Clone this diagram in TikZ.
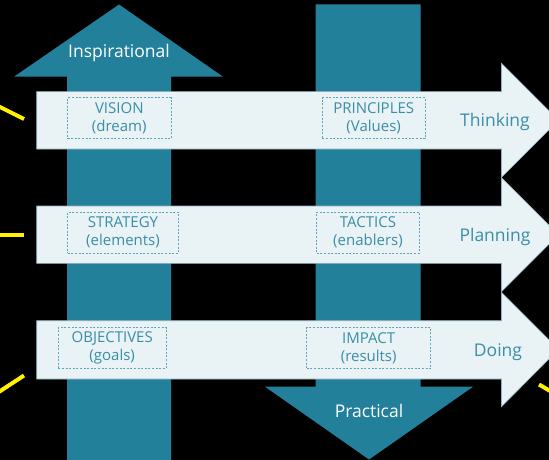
\documentclass[tikz,border=0pt]{standalone}
\usepackage{fontspec}
\setmainfont{Open Sans}
\definecolor{arrowteal}{HTML}{22809A}
\definecolor{bandfill}{HTML}{E9F2F5}
\definecolor{bandline}{HTML}{8FB2BE}
\definecolor{labelteal}{HTML}{3A8EA6}
\definecolor{boxline}{HTML}{5FA6B9}
\begin{document}
\begin{tikzpicture}[x=1pt,y=-1pt]
\tikzstyle{every node}+=[inner sep=0pt]
\tikzstyle{band}=[fill=bandfill, draw=bandline, line width=0.6pt]
\tikzstyle{shaft}=[fill=arrowteal]
\tikzstyle{tag}=[draw=boxline, dash pattern=on 2pt off 1.6pt, line width=0.7pt, text=labelteal, align=center, minimum height=41pt, font=\fontsize{15}{18}\selectfont]
\tikzstyle{lane}=[text=labelteal, font=\fontsize{17.5}{18}\selectfont]
\tikzstyle{heading}=[text=white, font=\fontsize{17.5}{18}\selectfont]
\tikzstyle{ray}=[draw=yellow, line width=4pt]
\useasboundingbox (0,0) rectangle (549,460);
\clip (0,0) rectangle (549,460);
% background
\fill [black] (0,0) rectangle (549,460);
% up and down arrows
\fill [shaft] (67,460) -- (67,76.7) -- (14,76.7) -- (119,4.5) -- (223,76.7) -- (171,76.7) -- (171,460) -- cycle;
\fill [shaft] (315.7,4.3) -- (420.7,4.3) -- (420.7,386.7) -- (473,386.7) -- (369,459.5) -- (265,386.7) -- (315.7,386.7) -- cycle;
\node [heading] (inspire) at (119,53) {Inspirational};
\node [heading] (practical) at (369,411) {Practical};
% horizontal bands
\draw [band] (36.7,91.7) -- (501.5,91.7) -- (501.5,63.3) -- (558.5,120.3) -- (501.5,177.3) -- (501.5,149) -- (36.7,149) -- cycle;
\draw [band] (36.7,206) -- (501.5,206) -- (501.5,177.7) -- (558.5,234.7) -- (501.5,291.7) -- (501.5,263.3) -- (36.7,263.3) -- cycle;
\draw [band] (36.7,320.7) -- (501.5,320.7) -- (501.5,292.3) -- (558.5,349.3) -- (501.5,406.7) -- (501.5,379) -- (36.7,379) -- cycle;
\node [lane] (think) at (495,122) {Thinking};
\node [lane] (plan) at (495,237) {Planning};
\node [lane] (doing) at (498,352) {Doing};
% dashed boxes
\node [tag, minimum width=103.3pt] (vision) at (119.3,118.3) {VISION\\(dream)};
\node [tag, minimum width=110.6pt] (strategy) at (123,232.7) {STRATEGY\\(elements)};
\node [tag, minimum width=107.7pt] (objectives) at (112.2,348) {OBJECTIVES\\(goals)};
\node [tag, minimum width=102.7pt] (principles) at (373.7,118.3) {PRINCIPLES\\(Values)};
\node [tag, minimum width=102.6pt] (tactics) at (368,232.7) {TACTICS\\(enablers)};
\node [tag, minimum width=124pt] (impact) at (368.7,348) {IMPACT\\(results)};
% yellow rays
\coordinate (r1a) at (-2,106); \coordinate (r1b) at (24,119);
\coordinate (r2a) at (-2,234.5); \coordinate (r2b) at (24,234.5);
\coordinate (r3a) at (-2,392.5); \coordinate (r3b) at (24,375.5);
\coordinate (r4a) at (539,384.5); \coordinate (r4b) at (551,391.5);
\draw [ray] (r1a) -- (r1b);
\draw [ray] (r2a) -- (r2b);
\draw [ray] (r3a) -- (r3b);
\draw [ray] (r4a) -- (r4b);
\end{tikzpicture}
\end{document}
